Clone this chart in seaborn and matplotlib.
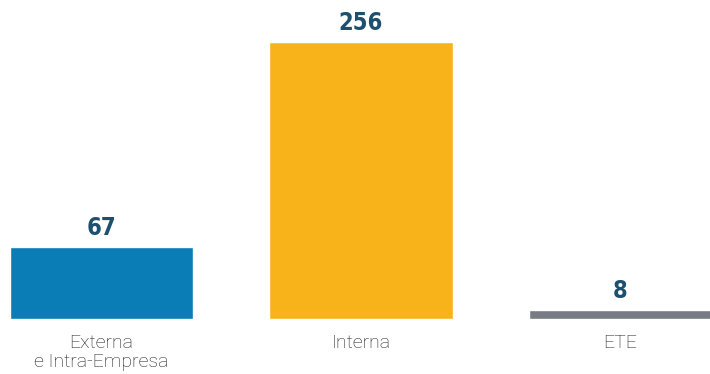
import pandas as pd
import matplotlib.pyplot as plt
import seaborn as sns

# Data
categories = ["Externa\ne Intra-Empresa", "Interna", "ETE"]
values = [67, 256, 8]
colors = ["#0a7cb6", "#f8b31b", "#777b83"]

df = pd.DataFrame({"categoria": categories, "valor": values})

sns.set_theme(style="white")
plt.rcParams['font.family'] = ['Roboto', 'DejaVu Sans']

fig = plt.figure(figsize=(7.1, 3.74), dpi=100)
ax = fig.add_axes([0, 0.147, 1, 0.853])

sns.barplot(data=df, x="categoria", y="valor", hue="categoria",
            palette=colors, width=0.707, saturation=1, legend=False, ax=ax)

# value labels above bars
for i, v in enumerate(values):
    ax.annotate(str(v), (i, v), xytext=(0, 5), textcoords="offset points",
                ha="center", va="bottom", fontsize=17, fontweight="bold",
                family=["Liberation Sans Narrow", "DejaVu Sans"],
                fontstretch="condensed", color="#1d4f6e")

ax.set_xlim(-0.391, 2.345)
ax.set_ylim(0, 294.8)
ax.set_xlabel("")
ax.set_ylabel("")
ax.set_yticks([])
ax.tick_params(axis="x", length=0, pad=11, labelsize=14, labelcolor="#1e1e1e")
for lbl in ax.get_xticklabels():
    lbl.set_fontweight("light")
    lbl.set_linespacing(1.08)
sns.despine(ax=ax, left=True, bottom=True)

fig.savefig("out.png", dpi=100)
